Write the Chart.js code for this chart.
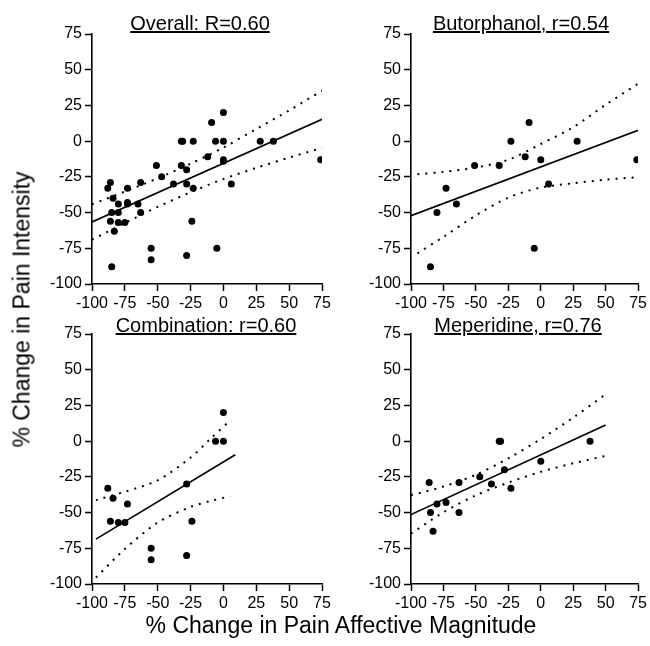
<!DOCTYPE html>
<html>
<head>
<meta charset="utf-8">
<script src="https://cdn.jsdelivr.net/npm/chart.js@4.4.1/dist/chart.umd.min.js"></script>
<style>
  body { margin: 0; background: #fff; }
  #wrap { position: relative; width: 650px; height: 646px; overflow: hidden; font-family: "Liberation Sans", Arial, sans-serif; color: #000; }
  #wrap canvas { position: absolute; left: 0; top: 0; }
  .ttl { position: absolute; font-size: 20px; line-height: 20px; white-space: nowrap; text-decoration: underline; text-decoration-thickness: 1.5px; transform: translateX(-50%); }
  .axt { position: absolute; font-size: 23px; line-height: 23px; white-space: nowrap; text-align: center; }
</style>
</head>
<body>
<div id="wrap">
  <canvas id="c1" width="650" height="646"></canvas>
  <canvas id="c2" width="650" height="646"></canvas>
  <canvas id="c3" width="650" height="646"></canvas>
  <canvas id="c4" width="650" height="646"></canvas>
  <div class="ttl" style="left:200px;top:13px">Overall: R=0.60</div>
  <div class="ttl" style="left:521px;top:13px">Butorphanol, r=0.54</div>
  <div class="ttl" style="left:206px;top:315px">Combination: r=0.60</div>
  <div class="ttl" style="left:518px;top:315px">Meperidine, r=0.76</div>
  <div class="axt" style="left:-178px;top:298px;width:400px;transform:rotate(-90deg)">% Change in Pain Intensity</div>
  <div class="axt" style="left:91px;top:614px;width:500px">% Change in Pain Affective Magnitude</div>
</div>
<script>
// axis ticks
var tickMin = -100, tickMax = 75, tickStep = 25;

// butorphanol group
var butX = [-85, -80, -73, -65, -51, -32, -23, -12, -9, -5, 0, 6, 28, 74];
var butY = [-88, -50, -33, -44, -17, -17, 0, -11, 13, -75, -13, -30, 0, -13];
var butFitX = [-100, 75];
var butFitY = [-52.2, 7.6];
var butBandX = [-95, -75, -50, -25, 0, 25, 50, 75];
var butUpper = [-23.2, -21.5, -18.5, -13, -2, 9.8, 25.5, 40.2];
var butLower = [-78.5, -67, -52, -39.5, -32.5, -29.5, -27, -25.2];

// combination group
var comboX = [-88, -84, -86, -80, -75, -73, -55, -55, -28, -28, -24, -6, 0, 0];
var comboY = [-33, -40, -56, -57, -57, -44, -75, -83, -30, -80, -56, 0, 0, 20];
var comboFitX = [-97, 9];
var comboFitY = [-68.6, -9.5];
var comboBandX = [-97, -75, -50, -25, -10, 5];
var comboUpper = [-41.3, -35.4, -27.4, -11.5, 1.5, 14.4];
var comboLower = [-95.5, -75.5, -57, -46, -42, -38.5];

// meperidine group
var mepX = [-86, -85, -83, -80, -73, -63, -63, -47, -38, -32, -31, -28, -23, 0, 38];
var mepY = [-29, -50, -63, -44, -43, -29, -50, -25, -30, 0, 0, -20, -33, -14, 0];
var mepFitX = [-100, 50];
var mepFitY = [-51.4, 11.3];
var mepBandX = [-100, -75, -50, -25, 0, 25, 50];
var mepUpper = [-37.8, -31.8, -23.5, -12, 1.5, 16.5, 32.8];
var mepLower = [-64.8, -49.8, -37.9, -29, -21.5, -15.5, -10.3];

// overall = pooled groups
var allX = butX.concat(comboX, mepX);
var allY = butY.concat(comboY, mepY);
var allFitX = [-100, 75];
var allFitY = [-56.6, 15.3];
var allBandX = [-100, -75, -50, -25, 0, 25, 50, 75];
var allUpper = [-44.2, -35.3, -26, -15.8, -4.5, 8.5, 21.5, 35.3];
var allLower = [-69, -57.3, -46, -35.8, -26.5, -18.7, -11.5, -4.7];

function pts(xs, ys) {
  return xs.map(function (x, i) { return { x: x, y: ys[i] }; });
}

function makePanel(id, area, xs, ys, fitX, fitY, bandX, upper, lower) {
  var yw = 60, xh = 30;
  var dotted = { type: 'line', showLine: true, borderColor: '#000', borderWidth: 2,
    borderDash: [2, 6], pointRadius: 0, fill: false, tension: 0.3 };
  new Chart(document.getElementById(id), {
    type: 'scatter',
    data: {
      datasets: [
        Object.assign({ data: pts(bandX, upper) }, dotted),
        Object.assign({ data: pts(bandX, lower) }, dotted),
        { type: 'line', data: pts(fitX, fitY), showLine: true, borderColor: '#000',
          borderWidth: 1.6, pointRadius: 0, fill: false },
        { data: pts(xs, ys), backgroundColor: '#000', borderWidth: 0,
          pointRadius: 3.5, pointHoverRadius: 3.5, clip: 0 }
      ]
    },
    options: {
      responsive: false,
      animation: false,
      devicePixelRatio: 1,
      events: [],
      layout: { padding: { left: area.left - yw, top: area.top, right: 650 - area.right, bottom: 646 - area.bottom - xh } },
      plugins: { legend: { display: false }, tooltip: { enabled: false }, title: { display: false } },
      scales: {
        x: {
          type: 'linear', min: tickMin, max: tickMax,
          afterFit: function (s) { s.height = xh; },
          ticks: { stepSize: tickStep, autoSkip: false, color: '#000', padding: 3, maxRotation: 0,
            font: { family: '"Liberation Sans", Arial', size: 16 } },
          grid: { drawOnChartArea: false, drawTicks: true, tickLength: 7, tickColor: '#000', tickWidth: 1.5 },
          border: { display: true, color: '#000', width: 1.6 }
        },
        y: {
          type: 'linear', min: tickMin, max: tickMax,
          afterFit: function (s) { s.width = yw; },
          ticks: { stepSize: tickStep, autoSkip: false, color: '#000', padding: 3,
            font: { family: '"Liberation Sans", Arial', size: 16 } },
          grid: { drawOnChartArea: false, drawTicks: true, tickLength: 7, tickColor: '#000', tickWidth: 1.5 },
          border: { display: true, color: '#000', width: 1.6 }
        }
      }
    }
  });
}

makePanel('c1', { left: 92, right: 322, top: 34, bottom: 284 }, allX, allY, allFitX, allFitY, allBandX, allUpper, allLower);
makePanel('c2', { left: 411, right: 640, top: 34, bottom: 284 }, butX, butY, butFitX, butFitY, butBandX, butUpper, butLower);
makePanel('c3', { left: 92, right: 322, top: 334, bottom: 584 }, comboX, comboY, comboFitX, comboFitY, comboBandX, comboUpper, comboLower);
makePanel('c4', { left: 411, right: 640, top: 334, bottom: 584 }, mepX, mepY, mepFitX, mepFitY, mepBandX, mepUpper, mepLower);
</script>
</body>
</html>
